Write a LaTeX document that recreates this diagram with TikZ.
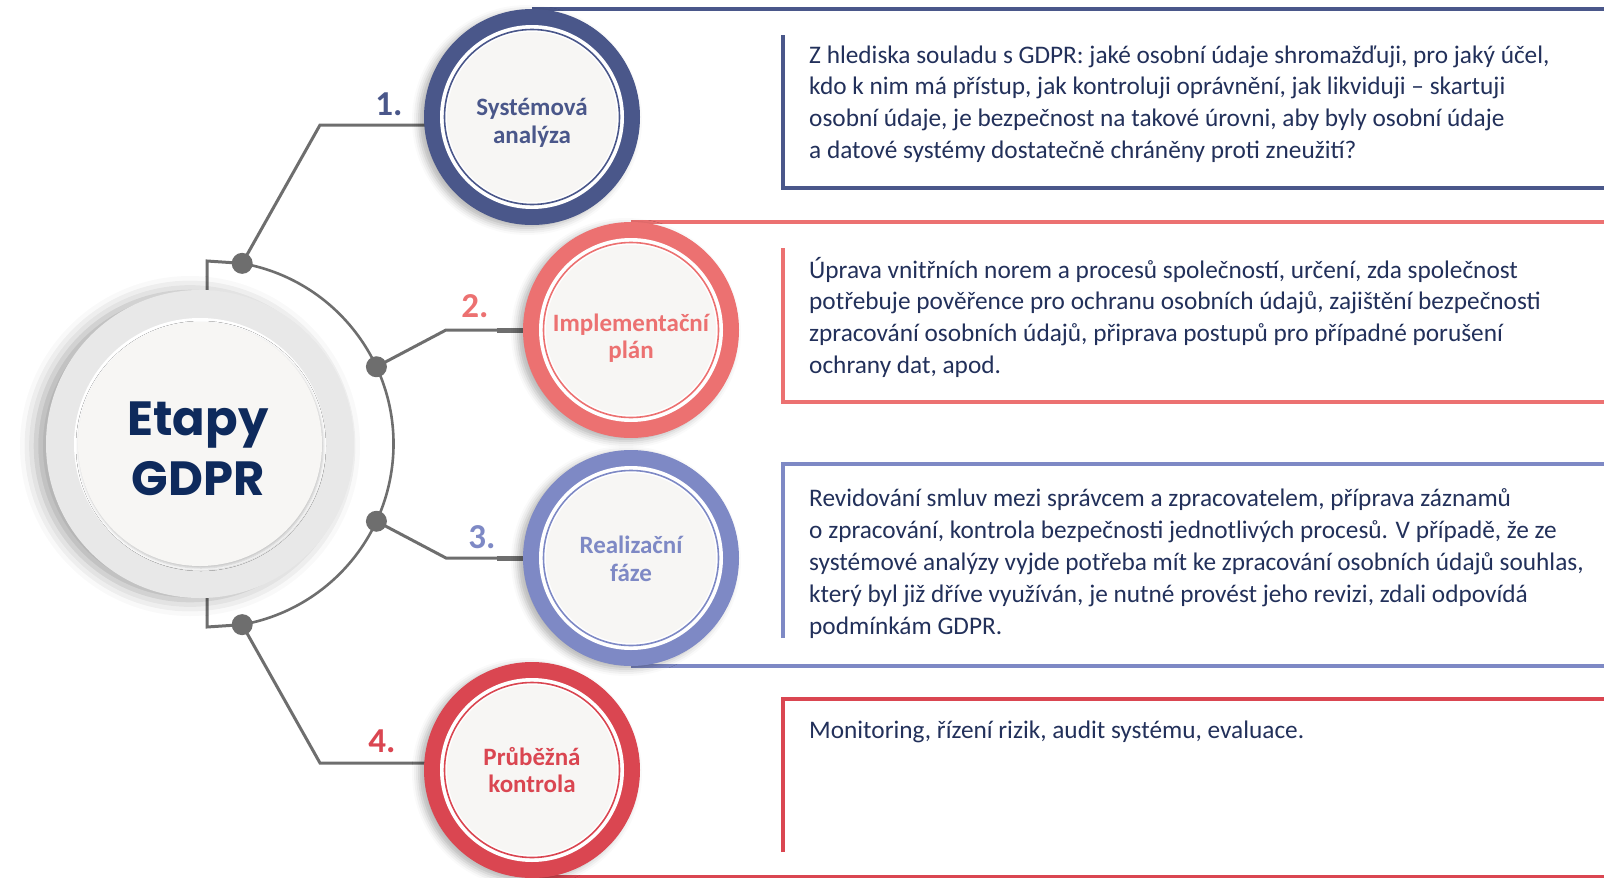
\documentclass[tikz,border=0pt]{standalone}
\usepackage{fontspec}
\setmainfont{Carlito}
\newfontfamily\titlefont{Poppins}
\usetikzlibrary{calc,shadows.blur}
\definecolor{cA}{HTML}{4A578A}
\definecolor{cB}{HTML}{EC7171}
\definecolor{cC}{HTML}{7E89C5}
\definecolor{cD}{HTML}{DA4651}
\definecolor{navy}{HTML}{0E2A5C}
\definecolor{bodycol}{HTML}{22305A}
\definecolor{linegray}{HTML}{6E6E6E}
\definecolor{ringgray}{HTML}{E8E8E8}
\definecolor{offwhite}{HTML}{F7F6F4}
\pgfdeclarelayer{background}
\pgfsetlayers{background,main}
\newcommand\twoline[3]{\vtop{\baselineskip=#1\hbox to 220pt{\hfil#2\hfil}\hbox to 220pt{\hfil#3\hfil}}}
\newcommand\stagecirc[5]{%
  \node[circle, minimum size=216pt, inner sep=0pt, fill=#3,
        blur shadow={shadow xshift=-5pt, shadow yshift=-3pt, shadow blur radius=7pt, shadow opacity=30}] (#1) at #2 {};
  \fill[white] (#1.center) circle[radius=92];
  \draw[#3, line width=1.6pt] (#1.center) circle[radius=87.5];
  \fill[offwhite] (#1.center) circle[radius=85];
  \node[anchor=base, inner sep=0pt, text=#3, font=\fontsize{25}{28}\selectfont\bfseries]
     (#1-lbl) at ($(#1.center)+(0,#4)$) {#5};
}
\tikzset{
  conn/.style={draw=linegray, line width=3pt},
  dotnode/.style={circle, fill=linegray, minimum size=21pt, inner sep=0pt},
  boxline/.style={line width=3.5pt},
  numlbl/.style={font=\fontsize{35}{35}\selectfont\bfseries, inner sep=0pt},
  bodytext/.style={anchor=base west, inner sep=0pt, text=bodycol, font=\fontsize{25.3}{31.7}\selectfont},
}
\begin{document}
\begin{tikzpicture}[x=1pt,y=-1pt]
\useasboundingbox (0,0) rectangle (1604,878);
\coordinate (R) at (1604,0);
% central circle
\node[circle, minimum size=308pt, inner sep=0pt, fill=ringgray,
      blur shadow={shadow xshift=-10pt, shadow yshift=-2pt, shadow blur radius=16pt, shadow opacity=35}] (ctr) at (200,444) {};
\fill[white] (ctr.center) circle[radius=126];
\fill[offwhite, blur shadow={shadow xshift=1pt, shadow yshift=-2pt, shadow blur radius=3pt, shadow opacity=25}] (ctr.center) circle[radius=122];
\node[anchor=base, inner sep=0pt, text=navy, font=\titlefont\bfseries\fontsize{48}{60}\selectfont] (title) at (198,435)
  {\vtop{\baselineskip=60pt\hbox to 200pt{\hfil Etapy\hfil}\hbox to 200pt{\hfil GDPR\hfil}}};
% arc centre and dots
\coordinate (A) at (210,444);
\node[dotnode] (d1) at ([shift={(-79.9:183.5)}]A) {};
\node[dotnode] (d2) at ([shift={(-24.9:183.5)}]A) {};
\node[dotnode] (d3) at ([shift={(24.9:183.5)}]A) {};
\node[dotnode] (d4) at ([shift={(79.9:183.5)}]A) {};
% stage circles
\stagecirc{c1}{(532,117)}{cA}{-2}{\twoline{28pt}{Systémová}{analýza}}
\stagecirc{c2}{(631,330)}{cB}{1}{\twoline{27pt}{Implementační}{plán}}
\stagecirc{c3}{(631,558)}{cC}{-5}{\twoline{28pt}{Realizační}{fáze}}
\stagecirc{c4}{(532,770)}{cD}{-5}{\twoline{27pt}{Průběžná}{kontrola}}
% numbers
\node[numlbl, text=cA] (n1) at (389,104) {1.};
\node[numlbl, text=cB] (n2) at (475,306) {2.};
\node[numlbl, text=cC] (n3) at (482,537) {3.};
\node[numlbl, text=cD] (n4) at (382,741) {4.};
% texts
\node[bodytext] (tx1) at (809,63) {\vtop{\baselineskip=31.7pt
  \hbox{Z hlediska souladu s GDPR: jaké osobní údaje shromažďuji, pro jaký účel,}
  \hbox{kdo k nim má přístup, jak kontroluji oprávnění, jak likviduji – skartuji}
  \hbox{osobní údaje, je bezpečnost na takové úrovni, aby byly osobní údaje}
  \hbox{a datové systémy dostatečně chráněny proti zneužití?}}};
\node[bodytext] (tx2) at (809,278) {\vtop{\baselineskip=31.7pt
  \hbox{Úprava vnitřních norem a procesů společností, určení, zda společnost}
  \hbox{potřebuje pověřence pro ochranu osobních údajů, zajištění bezpečnosti}
  \hbox{zpracování osobních údajů, připrava postupů pro případné porušení}
  \hbox{ochrany dat, apod.}}};
\node[bodytext] (tx3) at (809,506) {\vtop{\baselineskip=32pt
  \hbox{Revidování smluv mezi správcem a zpracovatelem, příprava záznamů}
  \hbox{o zpracování, kontrola bezpečnosti jednotlivých procesů. V případě, že ze}
  \hbox{systémové analýzy vyjde potřeba mít ke zpracování osobních údajů souhlas,}
  \hbox{který byl již dříve využíván, je nutné provést jeho revizi, zdali odpovídá}
  \hbox{podmínkám GDPR.}}};
\node[bodytext] (tx4) at (809,738) {Monitoring, řízení rizik, audit systému, evaluace.};
% background lines
\begin{pgfonlayer}{background}
  % box frames
  \draw[boxline, cA] (c1.north) -- (c1.north -| R);
  \draw[boxline, cA] (783,35) -- (783,188) -- (1604,188);
  \draw[boxline, cB] (c2.north) -- (c2.north -| R);
  \draw[boxline, cB] (783,248) -- (783,402) -- (1604,402);
  \draw[boxline, cC] (783,638) -- (783,464) -- (1604,464);
  \draw[boxline, cC] (c3.south) -- (c3.south -| R);
  \draw[boxline, cD] (783,852) -- (783,699) -- (1604,699);
  \draw[boxline, cD] ([yshift=1.5pt]c4.south) -- ([yshift=1.5pt]c4.south -| R);
  % arc
  \draw[draw=linegray, line width=2.6pt] (d1.center) arc[start angle=-79.9, end angle=79.9, radius=183.5];
  % links to centre circle
  \coordinate (t1) at (207,261);
  \coordinate (t4) at (207,627);
  \draw[conn] (d1.center) -- (t1) -- (t1 |- ctr.north);
  \draw[conn] (d4.center) -- (t4) -- (t4 |- ctr.south);
  % connectors to stages
  \coordinate (k1) at (320,125);
  \coordinate (k2) at (446,330);
  \coordinate (k3) at (446,558);
  \coordinate (k4) at (320,763);
  \draw[conn] (d1.center) -- (k1) -- (k1 -| c1.center);
  \draw[conn] (d2.center) -- (k2) -- (k2 -| c2.center);
  \draw[conn] (d3.center) -- (k3) -- (k3 -| c3.center);
  \draw[conn] (d4.center) -- (k4) -- (k4 -| c4.center);
  \draw[linegray, line width=5pt] ([xshift=-26pt]c2.west) -- (c2.west);
  \draw[linegray, line width=5pt] ([xshift=-26pt]c3.west) -- (c3.west);
\end{pgfonlayer}
\end{tikzpicture}
\end{document}
